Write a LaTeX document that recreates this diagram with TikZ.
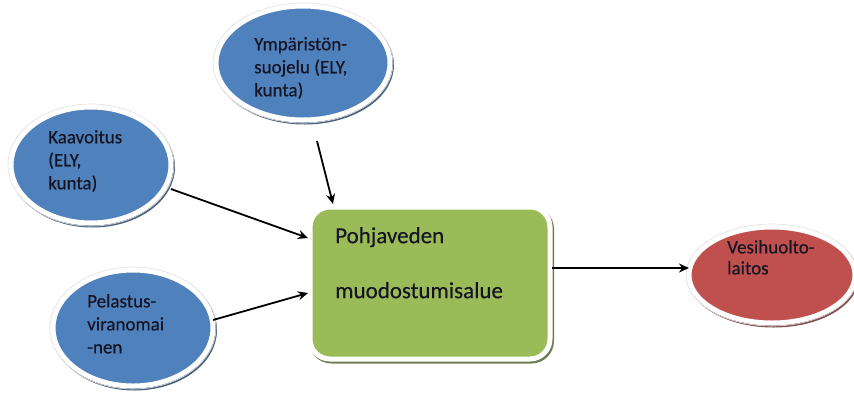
\documentclass[tikz,border=0pt]{standalone}
\usepackage{fontspec}
\setmainfont{Carlito}
\newfontfamily\inkfont[BoldFont={Carlito},BoldFeatures={FakeBold=0.35}]{Carlito}
\usetikzlibrary{shapes.geometric,arrows.meta,shadows}
\definecolor{topicblue}{HTML}{4F81BD}
\definecolor{areagreen}{HTML}{9BBB59}
\definecolor{utilityred}{HTML}{C0504D}
\definecolor{inktext}{HTML}{141422}
\begin{document}
\begin{tikzpicture}[x=1pt,y=-1pt,
  edgeshade/.style={general shadow={shadow xshift=1.5pt,shadow yshift=-2pt,
    fill=#1,draw=#1,line width=5pt,opacity=0.85}},
  bubble/.style={ellipse,draw=white,line width=5pt,inner sep=0pt,fill=#1,
    edgeshade=#1!55!black},
  rim/.style={ellipse,draw=black!12,line width=0.6pt,inner sep=0pt},
  areabox/.style={rectangle,rounded corners=20pt,fill=areagreen,draw=white,line width=5pt,
    edgeshade=areagreen!55!black},
  bubbletext/.style={anchor=north west,align=left,inner sep=0pt,text=inktext,
    font=\inkfont\bfseries\fontsize{19}{23}\selectfont},
  link/.style={line width=1.8pt,-{Stealth[length=10pt,width=9pt]}}]
\useasboundingbox (0,0) rectangle (854,392);

% central area box
\node[areabox,minimum width=240pt,minimum height=152pt] (area) at (430,283) {};
\node[anchor=north west,align=left,inner sep=0pt,text=inktext,
      font=\inkfont\bfseries\fontsize{23}{55}\selectfont] (areatext) at (335,227)
  {Pohjaveden\\muodostumisalue};

% authority bubbles
\node[bubble=topicblue,minimum width=174pt,minimum height=114pt] (ymp) at (303,63) {};
\node[rim,minimum width=180pt,minimum height=120pt] (ymprim) at (303,63) {};
\node[bubbletext] (ymptext) at (254,37) {Ympäristön-\\suojelu (ELY,\\kunta)};

\node[bubble=topicblue,minimum width=160pt,minimum height=116pt] (kaa) at (91,165) {};
\node[rim,minimum width=166pt,minimum height=122pt] (kaarim) at (91,165) {};
\node[bubbletext] (kaatext) at (48,130) {Kaavoitus\\(ELY,\\kunta)};

\node[bubble=topicblue,minimum width=160pt,minimum height=116pt] (pel) at (133,328) {};
\node[rim,minimum width=166pt,minimum height=122pt] (pelrim) at (133,328) {};
\node[bubbletext] (peltext) at (87,294) {Pelastus-\\viranomai\\-nen};

% water utility bubble
\node[bubble=utilityred,minimum width=166pt,minimum height=96pt] (vesi) at (772,275) {};
\node[rim,minimum width=172pt,minimum height=102pt] (vesirim) at (772,275) {};
\node[bubbletext,font=\inkfont\bfseries\fontsize{19}{21}\selectfont] (vesitext) at (727,240) {Vesihuolto-\\laitos};

% connectors
\coordinate (ympout) at (317,141);
\coordinate (areatop) at (333,204);
\draw[link] (ympout) -- (areatop);
\coordinate (kaaout) at (171,189);
\coordinate (areaupper) at (308,238);
\draw[link] (kaaout) -- (areaupper);
\coordinate (pelout) at (213,320);
\coordinate (arealower) at (308,293);
\draw[link] (pelout) -- (arealower);
\coordinate (areaout) at (552,268);
\coordinate (vesiin) at (689,268);
\draw[link] (areaout) -- (vesiin);
\end{tikzpicture}
\end{document}
